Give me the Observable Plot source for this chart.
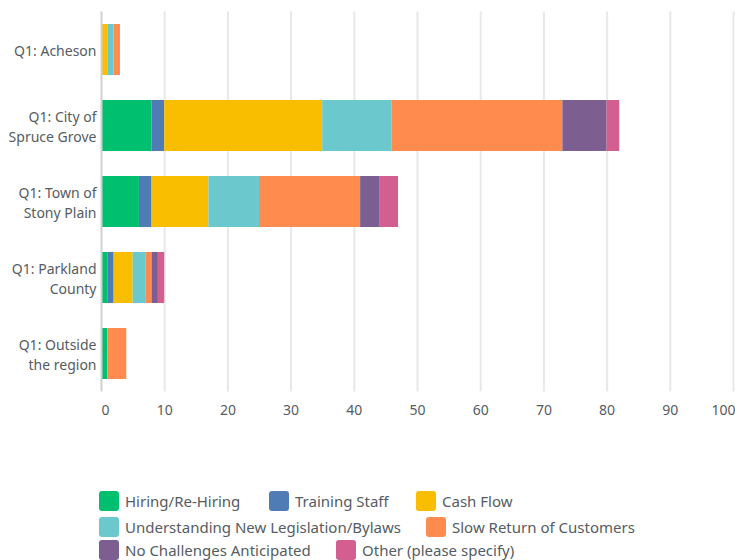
<!DOCTYPE html>
<html>
<head>
<meta charset="utf-8">
<script src="https://cdn.jsdelivr.net/npm/d3@7"></script>
<script src="https://cdn.jsdelivr.net/npm/@observablehq/plot@0.6"></script>
<style>
  html, body { margin: 0; padding: 0; background: #fff; }
  #wrap { position: relative; width: 735px; height: 560px; overflow: hidden; font-family: "Noto Sans", Roboto, sans-serif; }
  #chart { position: absolute; left: 0; top: 0; }
  .legend-row { position: absolute; left: 0; height: 20px; width: 735px; }
  .item { position: absolute; display: flex; align-items: center; height: 20px; }
  .sw { width: 20px; height: 20px; border-radius: 3px; margin-right: 6px; flex: none; }
  .lbl { font-size: 15px; line-height: 20px; color: #555c63; white-space: nowrap; }
</style>
</head>
<body>
<div id="wrap">
  <div id="chart"></div>
  <div id="legend"></div>
</div>
<script>
const categories = ["Q1: Acheson", "Q1: City of Spruce Grove", "Q1: Town of Stony Plain", "Q1: Parkland County", "Q1: Outside the region"];
const categoryLabels = ["Q1: Acheson", "Q1: City of\nSpruce Grove", "Q1: Town of\nStony Plain", "Q1: Parkland\nCounty", "Q1: Outside\nthe region"];
const seriesNames = ["Hiring/Re-Hiring", "Training Staff", "Cash Flow", "Understanding New Legislation/Bylaws", "Slow Return of Customers", "No Challenges Anticipated", "Other (please specify)"];
const seriesColors = ["#00BF6F", "#507CB6", "#F9BE00", "#6BC8CD", "#FF8B4F", "#7D5E90", "#D25F90"];

const hiring       = [0, 8, 6, 1, 1];
const training     = [0, 2, 2, 1, 0];
const cashFlow     = [1, 25, 9, 3, 0];
const legislation  = [1, 11, 8, 2, 0];
const slowReturn   = [1, 27, 16, 1, 3];
const noChallenges = [0, 7, 3, 1, 0];
const other        = [0, 2, 3, 1, 0];

const xTicks = [0, 10, 20, 30, 40, 50, 60, 70, 80, 90, 100];

const seriesValues = [hiring, training, cashFlow, legislation, slowReturn, noChallenges, other];
const rows = [];
seriesNames.forEach((s, si) => {
  categories.forEach((c, ci) => {
    rows.push({series: s, category: c, value: seriesValues[si][ci]});
  });
});
const labelOf = new Map(categories.map((c, i) => [c, categoryLabels[i]]));
const font = "'Noto Sans', Roboto, sans-serif";
const textColor = "#555c63";

const chart = Plot.plot({
  width: 735,
  height: 440,
  marginTop: 11.5,
  marginBottom: 48.5,
  marginLeft: 101,
  marginRight: 2,
  style: {fontFamily: font, background: "#fff"},
  x: {domain: [0, 100], axis: null, label: null},
  y: {domain: categories, paddingInner: 0.33, paddingOuter: 0.165, axis: null, label: null},
  color: {domain: seriesNames, range: seriesColors},
  marks: [
    Plot.gridX(xTicks.filter(d => d > 0), {stroke: "#e8e8e8", strokeOpacity: 1, strokeWidth: 2}),
    Plot.barX(rows, Plot.stackX({x: "value", y: "category", fill: "series", order: seriesNames})),
    Plot.ruleX([0], {stroke: "#d0d0d0", strokeWidth: 2}),
    Plot.axisX(xTicks.filter(d => d > 0 && d < 100), {tickSize: 0, tickPadding: 13, fontSize: 14, color: textColor, textAnchor: "middle", label: null}),
    Plot.axisX([0], {tickSize: 0, tickPadding: 13, fontSize: 14, color: textColor, textAnchor: "start", label: null}),
    Plot.axisX([100], {tickSize: 0, tickPadding: 13, fontSize: 14, color: textColor, textAnchor: "end", dx: 2, label: null}),
    Plot.text(categories, {x: () => 0, y: d => d, text: d => labelOf.get(d), textAnchor: "end", dx: -5, fontSize: 14, lineHeight: 1.43, fill: textColor})
  ]
});
document.getElementById("chart").appendChild(chart);

// Legend
const legendRows = [
  [[0, 99], [1, 269], [2, 416]],
  [[3, 99], [4, 426]],
  [[5, 99], [6, 336]]
];
const rowTops = [491, 517, 540];
const legend = document.getElementById("legend");
legendRows.forEach((row, ri) => {
  const r = document.createElement("div");
  r.className = "legend-row";
  r.style.top = rowTops[ri] + "px";
  row.forEach(([si, left]) => {
    const it = document.createElement("div");
    it.className = "item";
    it.style.left = left + "px";
    const sw = document.createElement("div");
    sw.className = "sw";
    sw.style.background = seriesColors[si];
    const lb = document.createElement("span");
    lb.className = "lbl";
    lb.textContent = seriesNames[si];
    it.appendChild(sw); it.appendChild(lb);
    r.appendChild(it);
  });
  legend.appendChild(r);
});
</script>
</body>
</html>
